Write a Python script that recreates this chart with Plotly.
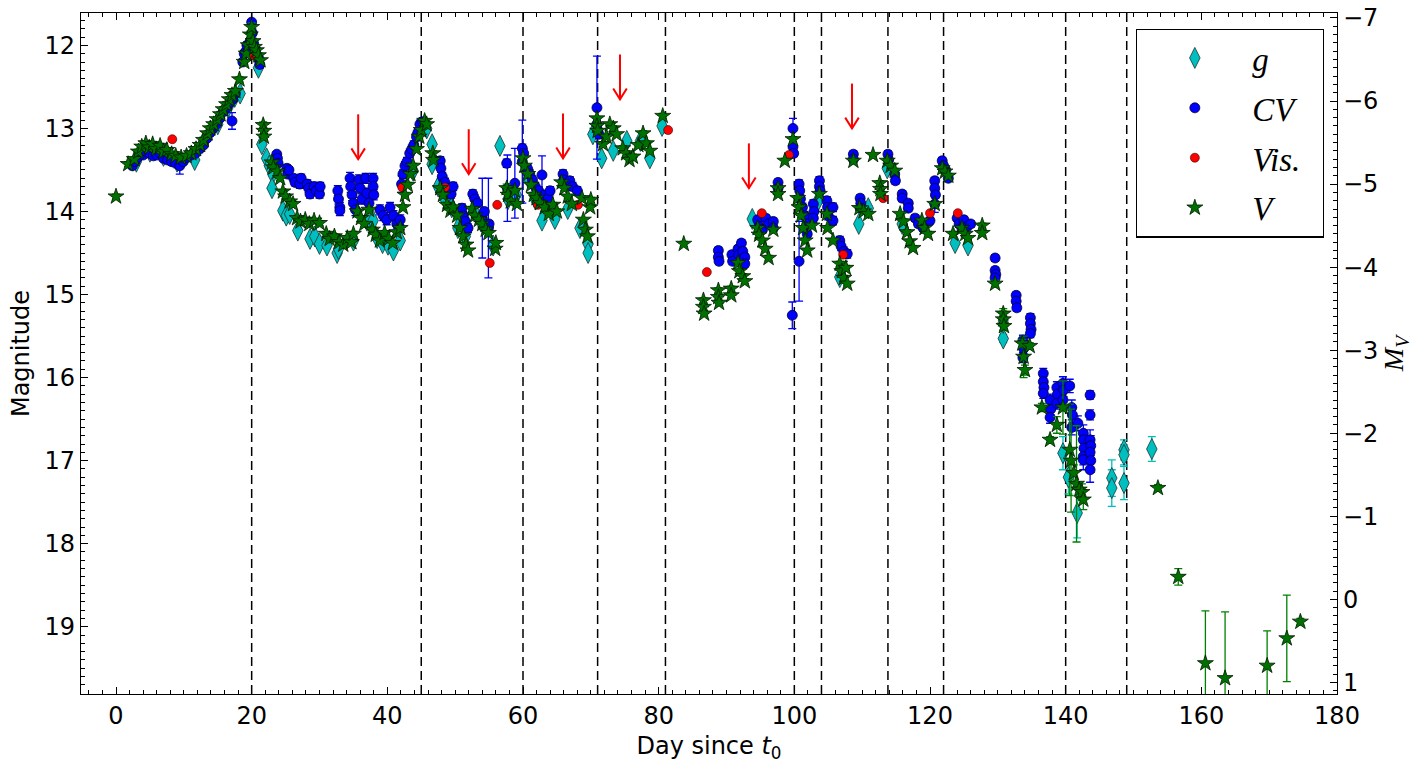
import plotly.graph_objects as go

# ---- V band (green stars) ----
v_day = [0.0, 1.8, 2.7, 3.3, 3.8, 4.4, 4.9, 5.4, 5.9, 6.5,
         7.0, 7.5, 8.2, 8.8, 9.6, 10.4, 11.1, 11.8, 12.4, 12.9,
         13.5, 13.9, 14.4, 14.9, 15.4, 15.8, 16.3, 16.7, 17.1, 17.6,
         18.2, 18.9, 19.2, 19.5, 19.8, 20.0, 20.2, 20.4, 20.7, 21.0,
         21.3, 21.7, 21.8, 21.8, 23.0, 23.2, 23.8, 24.2, 24.6, 25.0,
         25.6, 26.1, 26.7, 27.2, 27.9, 28.5, 29.2, 30.0, 31.0, 31.5,
         32.2, 32.9, 33.5, 34.1, 34.7, 35.0, 35.6, 36.1, 36.6, 37.3,
         37.8, 38.3, 38.9, 39.6, 40.2, 40.8, 41.4, 41.9, 42.3, 42.6,
         43.0, 43.4, 43.8, 44.3, 44.7, 45.0, 45.5, 45.8, 46.7, 46.8,
         47.8, 48.2, 48.8, 49.3, 49.7, 50.3, 50.7, 51.2, 51.6, 51.9,
         52.5, 52.9, 53.5, 54.0, 54.5, 54.9, 55.9, 56.0, 57.6, 57.8,
         58.2, 58.8, 59.1, 60.0, 60.2, 60.7, 61.2, 61.6, 62.0, 62.5,
         63.2, 63.8, 64.4, 65.0, 65.7, 66.1, 66.6, 67.2, 68.7, 68.9,
         69.2, 69.5, 69.9, 70.0, 70.9, 70.9, 71.0, 71.8, 72.3, 72.8,
         73.3, 73.8, 74.7, 75.2, 75.7, 76.2, 77.0, 77.7, 78.2, 78.7,
         80.6, 83.7, 86.6, 86.6, 86.7, 88.8, 88.8, 88.9, 90.7, 90.7,
         91.7, 91.9, 92.4, 92.7, 94.6, 94.8, 95.3, 95.7, 96.2, 96.9,
         97.6, 97.6, 98.6, 99.8, 100.5, 100.7, 101.0, 101.3, 101.6, 101.9,
         102.6, 103.7, 104.8, 104.9, 105.7, 106.7, 107.0, 107.3, 107.6, 107.8,
         108.7, 109.6, 110.2, 110.9, 111.6, 112.6, 112.7, 112.7, 113.7, 114.2,
         114.8, 115.6, 116.1, 116.6, 117.0, 117.5, 118.8, 119.2, 119.7, 120.7,
         121.8, 122.2, 122.7, 123.4, 124.7, 125.2, 125.6, 127.7, 127.7, 129.6,
         130.8, 130.8, 130.9, 133.6, 133.8, 134.0, 134.7, 136.5, 137.7, 138.7,
         139.6, 140.6, 140.8, 141.2, 141.6, 142.0, 142.4, 142.6, 153.6, 156.6,
         160.6, 163.5, 169.7, 172.6, 174.6]
v_mag = [13.82, 13.43, 13.37, 13.28, 13.22, 13.18, 13.23, 13.19, 13.25, 13.21,
         13.28, 13.26, 13.31, 13.33, 13.35, 13.33, 13.30, 13.25, 13.20, 13.14,
         13.06, 13.00, 12.95, 12.89, 12.83, 12.77, 12.71, 12.65, 12.60, 12.55,
         12.41, 12.20, 12.10, 12.00, 11.87, 11.78, 11.95, 12.02, 12.06, 12.12,
         12.18, 12.96, 13.03, 13.10, 13.41, 13.47, 13.52, 13.60, 13.76, 13.82,
         13.88, 13.91, 14.08, 14.12, 14.10, 14.15, 14.11, 14.14, 14.27, 14.33,
         14.30, 14.37, 14.40, 14.32, 14.37, 14.27, 14.00, 14.08, 14.15, 13.98,
         14.22, 14.28, 14.35, 14.26, 14.33, 14.38, 14.25, 14.20, 13.95, 13.80,
         13.68, 13.55, 13.45, 13.25, 13.10, 13.02, 12.91, 12.95, 13.30, 13.38,
         13.72, 13.80, 13.92, 13.99, 13.95, 14.05, 14.20, 14.30, 14.40, 14.47,
         13.97, 14.05, 14.10, 14.15, 14.22, 14.26, 14.45, 14.38, 13.72, 13.80,
         13.88, 13.75, 13.91, 13.36, 13.45, 13.55, 13.68, 13.80, 13.84, 13.90,
         13.95, 14.03, 13.92, 14.00, 13.65, 13.72, 13.82, 13.91, 13.84, 14.10,
         14.22, 14.30, 13.95, 13.86, 12.88, 12.97, 13.03, 13.19, 13.10, 12.95,
         13.00, 13.07, 13.24, 13.30, 13.38, 13.34, 13.20, 13.06, 13.18, 13.27,
         12.85, 14.39, 15.07, 15.15, 15.23, 14.95, 15.03, 15.10, 14.93, 15.01,
         14.62, 14.72, 14.78, 14.84, 14.20, 14.28, 14.35, 14.45, 14.56, 14.22,
         13.72, 13.79, 13.39, 13.13, 13.84, 13.95, 14.05, 14.20, 14.35, 14.47,
         14.17, 13.79, 14.03, 14.20, 14.35, 14.63, 14.72, 14.80, 14.68, 14.87,
         13.39, 13.96, 14.00, 14.03, 13.32, 13.66, 13.73, 13.79, 13.39, 13.45,
         13.51, 14.03, 14.12, 14.25, 14.36, 14.44, 14.11, 14.20, 14.27, 13.91,
         13.48, 13.52, 13.57, 14.27, 14.20, 14.27, 14.32, 14.17, 14.26, 14.87,
         15.23, 15.30, 15.38, 15.59, 15.75, 15.91, 15.62, 16.36, 16.75, 16.57,
         16.36, 16.87, 17.00, 17.15, 17.28, 17.35, 17.38, 17.47, 17.33, 18.40,
         19.44, 19.62, 19.47, 19.14, 18.94]
v_err = [0.03, 0.03, 0.02, 0.03, 0.02, 0.03, 0.02, 0.03, 0.02, 0.03,
         0.02, 0.03, 0.02, 0.03, 0.02, 0.03, 0.02, 0.03, 0.02, 0.03,
         0.02, 0.03, 0.02, 0.03, 0.02, 0.03, 0.02, 0.03, 0.02, 0.03,
         0.03, 0.03, 0.02, 0.03, 0.04, 0.05, 0.03, 0.03, 0.02, 0.03,
         0.03, 0.04, 0.03, 0.03, 0.02, 0.03, 0.02, 0.03, 0.02, 0.03,
         0.02, 0.03, 0.03, 0.02, 0.03, 0.03, 0.02, 0.03, 0.03, 0.02,
         0.03, 0.02, 0.03, 0.03, 0.02, 0.03, 0.02, 0.03, 0.03, 0.02,
         0.03, 0.02, 0.03, 0.03, 0.02, 0.03, 0.02, 0.03, 0.03, 0.02,
         0.03, 0.02, 0.03, 0.03, 0.02, 0.03, 0.02, 0.03, 0.03, 0.02,
         0.03, 0.02, 0.03, 0.03, 0.02, 0.03, 0.02, 0.03, 0.03, 0.02,
         0.03, 0.02, 0.03, 0.03, 0.02, 0.03, 0.04, 0.03, 0.05, 0.04,
         0.03, 0.02, 0.03, 0.03, 0.02, 0.03, 0.02, 0.03, 0.03, 0.02,
         0.03, 0.02, 0.03, 0.03, 0.02, 0.03, 0.02, 0.03, 0.03, 0.02,
         0.03, 0.02, 0.03, 0.03, 0.02, 0.03, 0.02, 0.03, 0.03, 0.02,
         0.03, 0.02, 0.03, 0.03, 0.02, 0.03, 0.02, 0.03, 0.03, 0.02,
         0.03, 0.03, 0.03, 0.04, 0.03, 0.03, 0.02, 0.03, 0.03, 0.02,
         0.03, 0.02, 0.03, 0.03, 0.02, 0.03, 0.02, 0.03, 0.03, 0.02,
         0.03, 0.02, 0.03, 0.03, 0.02, 0.03, 0.02, 0.03, 0.03, 0.02,
         0.03, 0.02, 0.03, 0.03, 0.02, 0.03, 0.02, 0.03, 0.03, 0.02,
         0.03, 0.02, 0.03, 0.03, 0.02, 0.03, 0.02, 0.03, 0.03, 0.02,
         0.03, 0.02, 0.03, 0.03, 0.02, 0.03, 0.02, 0.03, 0.03, 0.02,
         0.03, 0.02, 0.03, 0.03, 0.02, 0.03, 0.02, 0.03, 0.03, 0.04,
         0.03, 0.13, 0.04, 0.05, 0.25, 0.06, 0.04, 0.05, 0.04, 0.10,
         0.32, 0.55, 0.62, 0.10, 0.70, 0.08, 0.10, 0.12, 0.04, 0.10,
         0.63, 0.80, 0.42, 0.52, 0.04]

# ---- CV (unfiltered, blue circles) ----
cv_day = [2.4, 2.8, 3.2, 3.6, 4.0, 4.5, 5.0, 5.5, 6.0, 6.5,
          7.0, 7.6, 8.2, 8.8, 9.4, 9.9, 10.5, 11.1, 11.7, 12.3,
          12.9, 13.4, 13.9, 14.3, 14.8, 15.3, 15.8, 16.3, 16.7, 17.1,
          17.2, 17.6, 18.7, 18.9, 19.1, 19.3, 19.6, 19.8, 20.0, 20.1,
          20.3, 20.6, 21.0, 21.2, 23.7, 23.8, 23.9, 25.2, 25.3, 25.5,
          26.2, 26.4, 27.1, 27.3, 28.2, 28.4, 28.6, 29.2, 29.5, 30.0,
          30.1, 32.7, 32.8, 33.0, 33.0, 34.5, 34.6, 34.8, 35.0, 35.3,
          35.8, 36.0, 36.3, 36.8, 37.0, 37.3, 37.9, 37.9, 38.0, 38.9,
          39.4, 39.9, 40.4, 40.9, 41.4, 41.9, 42.1, 42.3, 42.6, 42.9,
          43.3, 43.6, 43.9, 44.3, 44.5, 44.8, 45.2, 47.8, 47.9, 48.1,
          48.5, 48.9, 49.4, 49.7, 51.0, 51.2, 51.5, 51.9, 52.6, 52.9,
          53.3, 54.0, 54.3, 54.9, 55.0, 57.6, 57.7, 58.8, 59.9, 59.9,
          60.1, 60.7, 61.0, 61.4, 61.8, 62.3, 62.8, 63.2, 63.7, 64.0,
          65.9, 66.0, 66.9, 67.3, 68.0, 70.9, 70.9, 71.0, 71.2, 88.8,
          88.8, 88.9, 90.8, 90.9, 91.7, 91.8, 92.2, 92.4, 92.7, 92.7,
          94.6, 94.8, 95.3, 95.8, 96.2, 96.9, 96.9, 97.6, 97.6, 99.8,
          99.8, 99.9, 99.7, 100.7, 100.7, 100.8, 100.9, 101.2, 101.5, 101.9,
          101.9, 102.8, 102.9, 102.8, 103.7, 103.7, 103.8, 104.8, 104.9, 105.0,
          105.7, 105.7, 106.7, 106.9, 107.3, 107.8, 108.7, 108.7, 109.7, 109.8,
          109.7, 113.8, 113.9, 114.8, 114.9, 115.9, 115.9, 116.8, 116.8, 117.8,
          118.3, 119.0, 120.0, 120.7, 120.7, 120.8, 120.7, 121.8, 122.0, 122.3,
          122.7, 124.0, 124.3, 124.7, 125.0, 125.5, 126.0, 129.6, 129.6, 129.7,
          129.6, 132.7, 132.7, 132.8, 133.7, 133.8, 133.7, 134.8, 134.8, 134.9,
          134.8, 136.7, 136.7, 136.8, 136.7, 137.7, 137.8, 137.7, 138.7, 138.8,
          138.7, 139.6, 139.7, 139.6, 140.6, 140.9, 141.0, 140.9, 141.8, 142.6,
          142.6, 142.7, 142.6, 142.6, 143.6, 143.6, 143.6, 143.7, 143.6, 143.7,
          143.6]
cv_mag = [13.45, 13.40, 13.35, 13.30, 13.32, 13.28, 13.30, 13.33, 13.32, 13.30,
          13.36, 13.38, 13.40, 13.42, 13.45, 13.40, 13.35, 13.32, 13.30, 13.25,
          13.20, 13.12, 13.05, 13.00, 12.95, 12.88, 12.80, 12.75, 12.70, 12.91,
          12.65, 12.58, 12.20, 12.10, 12.08, 12.00, 12.05, 11.95, 11.72, 11.85,
          11.98, 12.05, 12.15, 12.23, 13.31, 13.36, 13.42, 13.48, 13.55, 13.50,
          13.60, 13.65, 13.67, 13.60, 13.67, 13.72, 13.79, 13.70, 13.75, 13.79,
          13.70, 13.75, 13.85, 13.95, 13.99, 13.60, 13.70, 13.80, 13.90, 13.98,
          13.62, 13.72, 13.85, 13.60, 13.78, 13.90, 13.60, 13.70, 13.80, 13.98,
          14.05, 14.10, 13.95, 14.05, 14.15, 14.10, 13.67, 13.55, 13.45, 13.40,
          13.30, 13.25, 13.20, 13.10, 13.05, 12.95, 12.92, 13.39, 13.48, 13.58,
          13.65, 13.72, 13.79, 13.70, 13.96, 14.05, 14.12, 14.20, 13.79, 13.85,
          13.90, 14.08, 14.00, 14.20, 14.15, 13.42, 13.72, 13.66, 13.24, 13.40,
          13.30, 13.49, 13.55, 13.62, 13.70, 13.75, 13.56, 13.80, 13.84, 13.75,
          13.55, 13.62, 13.63, 13.70, 13.75, 12.75, 12.95, 13.02, 13.07, 14.47,
          14.55, 14.60, 14.52, 14.60, 14.45, 14.52, 14.38, 14.48, 14.55, 14.63,
          14.10, 14.18, 14.22, 14.08, 14.15, 14.12, 14.20, 13.65, 13.72, 13.00,
          13.22, 13.30, 15.25, 14.60, 13.67, 13.75, 13.85, 13.95, 14.05, 14.15,
          14.27, 13.91, 14.00, 14.08, 13.63, 13.70, 13.75, 13.87, 13.95, 14.05,
          13.95, 14.11, 14.35, 14.42, 14.48, 14.51, 13.31, 13.37, 13.84, 13.90,
          13.96, 13.31, 13.38, 13.55, 13.63, 13.79, 13.84, 13.90, 13.96, 14.08,
          14.15, 14.20, 14.11, 13.63, 13.72, 13.80, 13.91, 13.39, 13.45, 13.50,
          13.60, 14.08, 14.15, 14.20, 14.10, 14.18, 14.15, 14.56, 14.71, 14.76,
          14.80, 15.01, 15.08, 15.16, 15.55, 15.65, 15.76, 15.28, 15.35, 15.42,
          15.47, 15.95, 16.05, 16.12, 16.19, 16.27, 16.38, 16.48, 16.12, 16.20,
          16.31, 16.07, 16.15, 16.27, 16.10, 16.36, 16.45, 16.60, 16.55, 16.67,
          16.75, 16.85, 16.95, 16.99, 16.21, 16.45, 16.75, 16.82, 16.90, 17.00,
          17.11]
cv_err = [0.03, 0.03, 0.03, 0.03, 0.03, 0.03, 0.03, 0.03, 0.03, 0.03,
          0.03, 0.03, 0.03, 0.03, 0.10, 0.03, 0.03, 0.03, 0.03, 0.03,
          0.03, 0.03, 0.03, 0.03, 0.03, 0.03, 0.03, 0.03, 0.03, 0.10,
          0.03, 0.03, 0.04, 0.04, 0.04, 0.04, 0.04, 0.04, 0.12, 0.05,
          0.04, 0.04, 0.04, 0.04, 0.03, 0.03, 0.03, 0.04, 0.04, 0.04,
          0.04, 0.04, 0.05, 0.05, 0.05, 0.05, 0.05, 0.05, 0.05, 0.05,
          0.05, 0.06, 0.06, 0.06, 0.06, 0.07, 0.07, 0.07, 0.07, 0.07,
          0.06, 0.06, 0.06, 0.06, 0.06, 0.06, 0.06, 0.06, 0.06, 0.06,
          0.06, 0.06, 0.06, 0.06, 0.06, 0.06, 0.10, 0.05, 0.05, 0.05,
          0.05, 0.05, 0.05, 0.05, 0.05, 0.05, 0.05, 0.05, 0.05, 0.05,
          0.05, 0.05, 0.05, 0.05, 0.05, 0.05, 0.05, 0.05, 0.05, 0.05,
          0.04, 0.48, 0.04, 0.60, 0.04, 0.05, 0.40, 0.42, 0.05, 0.50,
          0.05, 0.05, 0.05, 0.05, 0.05, 0.05, 0.23, 0.05, 0.05, 0.05,
          0.05, 0.05, 0.05, 0.05, 0.05, 0.62, 0.05, 0.05, 0.05, 0.04,
          0.04, 0.04, 0.04, 0.04, 0.04, 0.04, 0.04, 0.04, 0.04, 0.04,
          0.04, 0.04, 0.04, 0.04, 0.04, 0.04, 0.04, 0.04, 0.04, 0.12,
          0.04, 0.04, 0.16, 0.48, 0.05, 0.05, 0.05, 0.05, 0.05, 0.05,
          0.05, 0.05, 0.05, 0.05, 0.05, 0.05, 0.05, 0.05, 0.05, 0.05,
          0.05, 0.05, 0.05, 0.05, 0.05, 0.05, 0.04, 0.04, 0.04, 0.04,
          0.04, 0.04, 0.04, 0.04, 0.04, 0.04, 0.04, 0.04, 0.04, 0.04,
          0.04, 0.04, 0.04, 0.04, 0.04, 0.04, 0.10, 0.04, 0.04, 0.04,
          0.04, 0.04, 0.04, 0.04, 0.04, 0.04, 0.04, 0.04, 0.04, 0.04,
          0.04, 0.04, 0.04, 0.04, 0.06, 0.06, 0.06, 0.05, 0.05, 0.05,
          0.05, 0.06, 0.06, 0.06, 0.06, 0.07, 0.07, 0.07, 0.07, 0.07,
          0.07, 0.08, 0.08, 0.08, 0.08, 0.09, 0.09, 0.09, 0.09, 0.10,
          0.10, 0.10, 0.10, 0.12, 0.05, 0.06, 0.12, 0.12, 0.14, 0.14,
          0.15]

# ---- g band (cyan thin diamonds) ----
g_day = [3.0, 5.0, 7.0, 9.0, 11.6, 13.0, 15.0, 16.5, 17.5, 18.3,
         20.9, 21.0, 21.5, 22.2, 22.6, 23.1, 23.0, 24.6, 25.1, 25.6,
         26.8, 28.6, 29.3, 30.0, 31.1, 32.6, 32.8, 35.0, 37.0, 37.9,
         38.5, 39.3, 40.1, 40.9, 41.9, 43.8, 45.8, 46.6, 46.6, 47.5,
         48.5, 49.5, 50.4, 51.5, 52.8, 53.8, 55.6, 56.6, 57.8, 59.0,
         60.8, 61.8, 62.8, 64.7, 66.6, 68.4, 69.6, 69.6, 70.3, 71.6,
         73.3, 75.3, 77.3, 78.7, 80.5, 93.8, 103.5, 106.7, 109.5, 110.9,
         113.7, 115.9, 123.7, 125.6, 130.8, 130.8, 139.6, 140.4, 141.7, 146.8,
         146.8, 148.6, 148.6, 148.6, 152.7]
g_mag = [13.40, 13.28, 13.33, 13.40, 13.38, 13.15, 12.95, 12.75, 12.62, 12.58,
         12.15, 12.27, 13.19, 13.36, 13.45, 13.55, 13.72, 13.99, 14.05, 14.03,
         14.23, 14.33, 14.30, 14.39, 14.41, 14.50, 14.45, 14.35, 14.11, 14.11,
         14.32, 14.38, 14.40, 14.47, 14.35, 13.51, 13.00, 13.19, 13.43, 13.70,
         13.85, 13.95, 14.20, 14.30, 14.00, 14.12, 14.41, 13.21, 13.85, 13.80,
         13.60, 13.85, 14.11, 14.09, 13.97, 14.20, 14.39, 14.50, 13.07, 13.36,
         13.27, 13.15, 13.15, 13.36, 12.97, 14.09, 13.87, 14.79, 14.15, 13.96,
         13.48, 14.15, 14.38, 14.41, 15.53, 15.34, 16.91, 17.20, 17.63, 17.21,
         17.33, 16.87, 16.93, 17.27, 16.86]
g_err = [0.02, 0.02, 0.02, 0.02, 0.02, 0.02, 0.02, 0.02, 0.02, 0.02,
         0.03, 0.03, 0.03, 0.03, 0.03, 0.03, 0.03, 0.03, 0.03, 0.03,
         0.03, 0.03, 0.03, 0.03, 0.03, 0.03, 0.03, 0.03, 0.03, 0.03,
         0.03, 0.03, 0.03, 0.03, 0.03, 0.03, 0.03, 0.03, 0.03, 0.03,
         0.03, 0.03, 0.03, 0.03, 0.03, 0.03, 0.03, 0.03, 0.03, 0.03,
         0.03, 0.03, 0.03, 0.03, 0.03, 0.03, 0.03, 0.03, 0.03, 0.03,
         0.03, 0.03, 0.03, 0.03, 0.03, 0.03, 0.03, 0.03, 0.03, 0.03,
         0.03, 0.03, 0.03, 0.03, 0.05, 0.05, 0.20, 0.20, 0.30, 0.22,
         0.22, 0.12, 0.12, 0.20, 0.15]

# ---- visual estimates (red dots) ----
vis_day = [8.3, 20.3, 32.3, 42.2, 48.5, 55.1, 56.2, 62.2, 68.1, 81.4,
           87.1, 95.2, 99.2, 107.2, 113.1, 120.0, 124.1]
vis_mag = [13.13, 12.12, 14.31, 13.71, 13.71, 14.62, 13.92, 13.92, 13.92, 13.02,
           14.73, 14.02, 13.32, 14.52, 13.84, 14.02, 14.02]

# epochs marked with dashed lines, spectra epochs (red arrows)
line_days = [20, 45, 60, 71, 81, 100, 104, 113.8, 122, 140, 149]
arrow_day = [35.7, 52.0, 65.9, 74.3, 93.3, 108.5]
arrow_mag = [13.37, 13.55, 13.36, 12.65, 13.72, 13.00]

dist_mod = 18.67   # m - M_V

fig = go.Figure()

fig.add_trace(go.Scatter(
    x=g_day, y=g_mag, mode="markers", name="<i>g</i>", legendgroup="g",
    error_y=dict(type="data", array=g_err, color="#00bfbf", thickness=1.3, width=4),
    marker=dict(symbol="diamond-tall", size=15, color="#00bfbf",
                line=dict(color="#1a3333", width=0.8))))
fig.add_trace(go.Scatter(
    x=cv_day, y=cv_mag, mode="markers", name="<i>CV</i>", legendgroup="cv",
    error_y=dict(type="data", array=cv_err, color="#0000ff", thickness=1.3, width=4),
    marker=dict(symbol="circle", size=10, color="#0000ff",
                line=dict(color="#000033", width=0.8))))
fig.add_trace(go.Scatter(
    x=vis_day, y=vis_mag, mode="markers", name="<i>Vis.</i>\u00a0\u00a0", legendgroup="vis",
    marker=dict(symbol="circle", size=9, color="#ff0000",
                line=dict(color="#330000", width=0.6))))
fig.add_trace(go.Scatter(
    x=v_day, y=v_mag, mode="markers", name="<i>V</i>", legendgroup="v",
    error_y=dict(type="data", array=v_err, color="#008000", thickness=1.3, width=4),
    marker=dict(symbol="star", size=12, color="#007000",
                line=dict(color="#001a00", width=0.8))))

# red arrows
ax, ay = [], []
for d, m in zip(arrow_day, arrow_mag):
    ax += [d, d, None, d - 1.0, d, d + 1.0, None]
    ay += [m - 0.54, m, None, m - 0.13, m, m - 0.13, None]
fig.add_trace(go.Scatter(x=ax, y=ay, mode="lines", showlegend=False,
                         line=dict(color="#ff0000", width=2), hoverinfo="skip"))

# absolute magnitude axis
fig.add_trace(go.Scatter(x=v_day, y=[m - dist_mod for m in v_mag], yaxis="y2",
                         mode="markers", marker=dict(opacity=0), showlegend=False,
                         hoverinfo="skip"))

for d in line_days:
    fig.add_vline(x=d, line=dict(color="black", width=1.5, dash="9px,5px"), layer="below")

tickfont = dict(family="DejaVu Sans", size=24, color="black")
ymin, ymax = 11.61, 19.81

fig.update_layout(
    width=1421, height=771,
    margin=dict(l=81, r=84, t=13, b=77, autoexpand=False),
    paper_bgcolor="white", plot_bgcolor="white",
    showlegend=True,
    legend=dict(x=0.84, y=0.977, xanchor="left", yanchor="top",
                bordercolor="black", borderwidth=1.3, bgcolor="white",
                font=dict(family="Liberation Serif", size=33, color="black"),
                itemwidth=105, tracegroupgap=4),
    xaxis=dict(range=[-5.16, 180], tick0=0, dtick=20, ticks="inside", ticklen=7,
               tickwidth=1.2, tickcolor="black", showline=True, linecolor="black",
               linewidth=1.3, mirror="ticks", showgrid=False, zeroline=False,
               tickfont=tickfont, automargin=False, ticklabeloverflow="allow",
               minor=dict(dtick=2, ticks="inside", ticklen=4, tickcolor="black"),
               title=dict(text="Day since <i>t</i><sub>0</sub>",
                          font=dict(family="DejaVu Sans", size=24, color="black"),
                          standoff=8)),
    yaxis=dict(range=[ymax, ymin], tick0=0, dtick=1, ticks="inside", ticklen=7,
               tickwidth=1.2, tickcolor="black", showline=True, linecolor="black",
               linewidth=1.3, mirror=True, showgrid=False, zeroline=False,
               tickfont=tickfont, automargin=False, ticklabeloverflow="allow",
               minor=dict(dtick=0.1, ticks="inside", ticklen=4, tickcolor="black"),
               title=dict(text="Magnitude",
                          font=dict(family="DejaVu Sans", size=24, color="black"),
                          standoff=8)),
    yaxis2=dict(overlaying="y", side="right",
                range=[ymax - dist_mod, ymin - dist_mod], tick0=0, dtick=1,
                ticks="inside", ticklen=7, tickwidth=1.2, tickcolor="black",
                showline=True, linecolor="black", linewidth=1.3,
                showgrid=False, zeroline=False, tickfont=tickfont, automargin=False,
                ticklabeloverflow="allow",
                minor=dict(dtick=0.1, ticks="inside", ticklen=4, tickcolor="black"),
                title=dict(text="<i>M</i><sub><i>V</i></sub>",
                           font=dict(family="Liberation Serif", size=28, color="black"),
                           standoff=4)),
)

# drop the page's default body margin so the figure fills the window
fig.write_html("out.html", config={"displayModeBar": False},
               post_script="document.body.style.margin='0px';")
